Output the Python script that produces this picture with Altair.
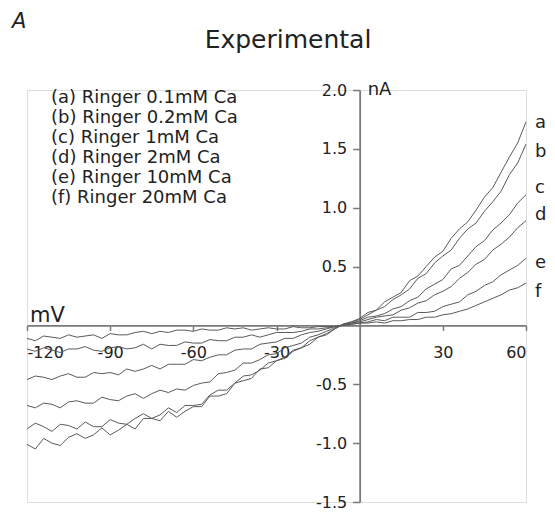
import altair as alt
import pandas as pd

# Membrane potential samples (mV)
MV = [-120, -117, -114, -111, -108, -105, -102, -99, -96, -93,
      -90, -87, -84, -81, -78, -75, -72, -69, -66, -63,
      -60, -57, -54, -51, -48, -45, -42, -39, -36, -33,
      -30, -27, -24, -21, -18, -15, -12, -9, -6, -3,
      0, 3, 6, 9, 12, 15, 18, 21, 24, 27,
      30, 33, 36, 39, 42, 45, 48, 51, 54, 57, 60]

# Currents (nA)
CURVE_A = [-1.01, -1.05, -0.96, -1.00, -1.02, -0.95, -0.92, -0.96, -0.93, -0.87,
           -0.93, -0.89, -0.84, -0.88, -0.79, -0.79, -0.81, -0.73, -0.78, -0.73,
           -0.69, -0.69, -0.60, -0.60, -0.58, -0.49, -0.47, -0.45, -0.37, -0.36,
           -0.30, -0.28, -0.22, -0.19, -0.16, -0.10, -0.07, -0.03, 0.01, 0.03,
           0.06, 0.11, 0.13, 0.20, 0.24, 0.28, 0.38, 0.42, 0.50, 0.58,
           0.63, 0.74, 0.82, 0.88, 0.98, 1.09, 1.17, 1.30, 1.43, 1.55, 1.73]
CURVE_B = [-0.88, -0.83, -0.86, -0.90, -0.84, -0.85, -0.88, -0.82, -0.86, -0.86,
           -0.80, -0.83, -0.84, -0.79, -0.75, -0.79, -0.76, -0.70, -0.74, -0.68,
           -0.68, -0.67, -0.59, -0.55, -0.55, -0.49, -0.43, -0.42, -0.38, -0.32,
           -0.30, -0.27, -0.21, -0.19, -0.13, -0.10, -0.08, -0.03, 0.01, 0.03,
           0.05, 0.09, 0.13, 0.16, 0.22, 0.26, 0.31, 0.40, 0.44, 0.53,
           0.59, 0.64, 0.74, 0.82, 0.87, 0.97, 1.05, 1.14, 1.28, 1.38, 1.54]
CURVE_C = [-0.68, -0.70, -0.66, -0.67, -0.70, -0.65, -0.64, -0.66, -0.66, -0.61,
           -0.63, -0.64, -0.60, -0.58, -0.62, -0.58, -0.55, -0.57, -0.54, -0.55,
           -0.51, -0.49, -0.48, -0.41, -0.40, -0.38, -0.32, -0.32, -0.29, -0.25,
           -0.24, -0.19, -0.17, -0.15, -0.10, -0.08, -0.05, -0.02, 0.01, 0.02,
           0.04, 0.07, 0.08, 0.10, 0.14, 0.16, 0.21, 0.24, 0.31, 0.35,
           0.39, 0.48, 0.51, 0.59, 0.67, 0.72, 0.81, 0.87, 0.94, 1.04, 1.11]
CURVE_D = [-0.46, -0.43, -0.44, -0.46, -0.43, -0.41, -0.44, -0.44, -0.40, -0.41,
           -0.40, -0.42, -0.37, -0.39, -0.37, -0.34, -0.37, -0.33, -0.33, -0.33,
           -0.29, -0.30, -0.27, -0.25, -0.25, -0.21, -0.20, -0.20, -0.16, -0.15,
           -0.14, -0.11, -0.11, -0.08, -0.06, -0.05, -0.03, -0.01, 0.00, 0.02,
           0.03, 0.05, 0.07, 0.08, 0.09, 0.13, 0.15, 0.19, 0.21, 0.26,
           0.29, 0.33, 0.40, 0.45, 0.52, 0.56, 0.64, 0.69, 0.75, 0.83, 0.89]
CURVE_E = [-0.20, -0.22, -0.19, -0.21, -0.23, -0.20, -0.20, -0.18, -0.21, -0.22,
           -0.19, -0.18, -0.20, -0.19, -0.16, -0.20, -0.16, -0.17, -0.17, -0.14,
           -0.15, -0.15, -0.12, -0.13, -0.13, -0.10, -0.10, -0.08, -0.10, -0.08,
           -0.06, -0.06, -0.06, -0.05, -0.03, -0.03, -0.02, -0.01, 0.00, 0.01,
           0.02, 0.03, 0.05, 0.04, 0.07, 0.07, 0.07, 0.11, 0.11, 0.12,
           0.16, 0.18, 0.20, 0.26, 0.29, 0.34, 0.37, 0.43, 0.47, 0.51, 0.57]
CURVE_F = [-0.11, -0.13, -0.09, -0.10, -0.11, -0.08, -0.10, -0.09, -0.08, -0.11,
           -0.07, -0.08, -0.08, -0.06, -0.05, -0.07, -0.05, -0.06, -0.04, -0.04,
           -0.05, -0.03, -0.04, -0.04, -0.02, -0.03, -0.02, -0.04, -0.03, -0.02,
           -0.03, -0.03, -0.01, -0.02, -0.02, -0.01, -0.01, -0.01, 0.00, 0.01,
           0.02, 0.02, 0.03, 0.02, 0.04, 0.04, 0.05, 0.05, 0.07, 0.07,
           0.09, 0.10, 0.12, 0.14, 0.17, 0.20, 0.23, 0.26, 0.30, 0.32, 0.36]

SERIES_NAMES = ["(a) Ringer 0.1mM Ca", "(b) Ringer 0.2mM Ca", "(c) Ringer 1mM Ca",
                "(d) Ringer 2mM Ca", "(e) Ringer 10mM Ca", "(f) Ringer 20mM Ca"]
LETTERS = ["a", "b", "c", "d", "e", "f"]
CURVES = [CURVE_A, CURVE_B, CURVE_C, CURVE_D, CURVE_E, CURVE_F]
# where the trace letters sit (nA), beside the right ends of the traces
LETTER_Y = [1.72, 1.47, 1.17, 0.94, 0.53, 0.28]

X_TICKS = [-120, -90, -60, -30, 30, 60]
Y_TICKS = [-1.5, -1.0, -0.5, 0.5, 1.0, 1.5, 2.0]
X_DOMAIN = [-120, 60]
Y_DOMAIN = [-1.5, 2.0]

rows = []
for name, letter, vals in zip(SERIES_NAMES, LETTERS, CURVES):
    for v, i in zip(MV, vals):
        rows.append({"mV": v, "nA": i, "series": name, "letter": letter})
df = pd.DataFrame(rows)
ends = pd.DataFrame({"mV": [MV[-1]] * 6, "nA": LETTER_Y, "letter": LETTERS})

W, H = 499, 412
FONT = "DejaVu Sans"
INK = "#222222"
AXIS_GREY = "#7a7a7a"
TRACE = "#5a5a5a"

# place the axes through the origin
x_axis_offset = -H * (0 - Y_DOMAIN[0]) / (Y_DOMAIN[1] - Y_DOMAIN[0])
y_axis_offset = -W * (0 - X_DOMAIN[0]) / (X_DOMAIN[1] - X_DOMAIN[0])

xscale = alt.Scale(domain=X_DOMAIN, nice=False)
yscale = alt.Scale(domain=Y_DOMAIN, nice=False)

x_axis = alt.Axis(values=X_TICKS, offset=x_axis_offset, title=None, grid=False,
                  tickSize=5, tickWidth=1.5, tickColor=AXIS_GREY,
                  domainColor=AXIS_GREY, domainWidth=1.8,
                  labelFont=FONT, labelFontSize=16, labelColor=INK,
                  labelPadding=14,
                  labelExpr="replace(format(datum.value, 'd'), '\u2212', '-')")
y_axis = alt.Axis(values=Y_TICKS, offset=y_axis_offset, title=None, grid=False,
                  tickSize=7, tickWidth=1.5, tickColor=AXIS_GREY,
                  domainColor=AXIS_GREY, domainWidth=1.8,
                  labelFont=FONT, labelFontSize=16, labelColor=INK,
                  labelPadding=6,
                  labelExpr="replace(format(datum.value, '.1f'), '\u2212', '-')")

lines = alt.Chart(df).mark_line(strokeWidth=1, clip=False).encode(
    x=alt.X("mV:Q", scale=xscale, axis=x_axis),
    y=alt.Y("nA:Q", scale=yscale, axis=y_axis),
    color=alt.Color("series:N",
                    scale=alt.Scale(domain=SERIES_NAMES, range=[TRACE] * 6),
                    legend=alt.Legend(orient="none", legendX=6, legendY=-1,
                                      title=None, symbolSize=0, symbolOpacity=0,
                                      symbolStrokeWidth=0, labelOffset=0,
                                      labelFont=FONT, labelFontSize=18,
                                      labelColor=INK, rowPadding=2,
                                      labelLimit=400, padding=0)),
    order=alt.Order("mV:Q"),
)

letters = alt.Chart(ends).mark_text(align="left", baseline="middle", dx=9,
                                    font=FONT, fontSize=18, color=INK).encode(
    x=alt.X("mV:Q", scale=xscale),
    y=alt.Y("nA:Q", scale=yscale),
    text="letter:N",
)

unit_df = pd.DataFrame({"mV": [0, X_DOMAIN[0]], "nA": [Y_DOMAIN[1], 0],
                        "t": ["nA", "mV"]})
na_label = alt.Chart(unit_df[unit_df.t == "nA"]).mark_text(
    align="left", baseline="middle", dx=8, font=FONT, fontSize=18, color=INK
).encode(x=alt.X("mV:Q", scale=xscale), y=alt.Y("nA:Q", scale=yscale), text="t:N")
mv_label = alt.Chart(unit_df[unit_df.t == "mV"]).mark_text(
    align="left", baseline="alphabetic", dx=3, dy=-3, font=FONT, fontSize=21, color=INK
).encode(x=alt.X("mV:Q", scale=xscale), y=alt.Y("nA:Q", scale=yscale), text="t:N")

heading = alt.Chart(pd.DataFrame({"t": ["Experimental"]})).mark_text(
    align="center", baseline="alphabetic", font=FONT, fontSize=25, color=INK
).encode(x=alt.value(261), y=alt.value(-42), text="t:N")

panel = alt.Chart(pd.DataFrame({"t": ["A"]})).mark_text(
    align="left", baseline="alphabetic", font=FONT, fontSize=21,
    fontStyle="italic", color=INK
).encode(x=alt.value(-15), y=alt.value(-62), text="t:N")

chart = alt.layer(lines, letters, na_label, mv_label, heading, panel).properties(
    width=W, height=H,
    autosize=alt.AutoSizeParams(type="none"),
    padding={"left": 27, "top": 90, "right": 29, "bottom": 14},
).configure_view(stroke=None).configure(background="white")

chart.save("out.html", embed_options={"renderer": "svg", "actions": False})
